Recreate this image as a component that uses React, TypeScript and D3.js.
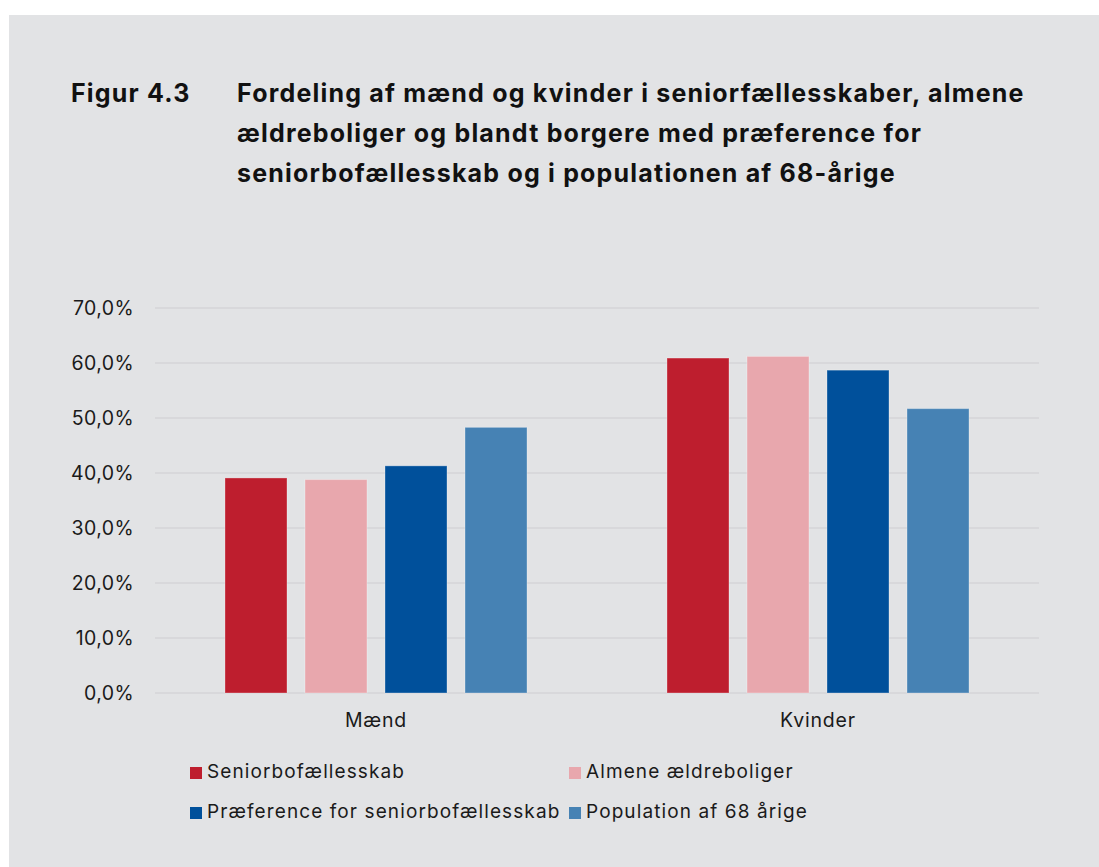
import React from "react";
import * as d3 from "d3";

const categories = ["Mænd", "Kvinder"];
const seriesNames = [
  "Seniorbofællesskab",
  "Almene ældreboliger",
  "Præference for seniorbofællesskab",
  "Population af 68 årige",
];
const seriesColors = ["#be1e2e", "#e8a7ad", "#00509b", "#4682b4"];
const seniorbo = [39.1, 60.9];
const almene = [38.8, 61.2];
const praeference = [41.3, 58.7];
const population = [48.3, 51.7];
const seriesValues = [seniorbo, almene, praeference, population];
const yTicks = [0, 10, 20, 30, 40, 50, 60, 70];
const titleLabel = "Figur 4.3";
const titleLines = [
  "Fordeling af mænd og kvinder i seniorfællesskaber, almene",
  "ældreboliger og blandt borgere med præference for",
  "seniorbofællesskab og i populationen af 68-årige",
];

const W = 1099;
const H = 867;
const left = 155;
const right = 1039;
const top = 308;
const bottom = 693;
const font = "Inter, 'Noto Sans', sans-serif";

export default function App() {
  const y = d3.scaleLinear().domain([0, 70]).range([bottom, top]);
  const x0 = d3
    .scaleBand<string>()
    .domain(categories)
    .range([left, right])
    .paddingInner(0.3167)
    .paddingOuter(0.3167 / 2);
  const x1 = d3
    .scaleBand<string>()
    .domain(seriesNames)
    .range([0, x0.bandwidth()])
    .paddingInner(0.225)
    .paddingOuter(0);
  const fmt = (v: number) => d3.format(".1f")(v).replace(".", ",") + "%";

  const legendPos = [
    { x: 190, y: 767 },
    { x: 569, y: 767 },
    { x: 190, y: 807 },
    { x: 569, y: 807 },
  ];

  return (
    <svg
      width={W}
      height={H}
      style={{ position: "absolute", left: 0, top: 0 }}
      fontFamily={font}
    >
      <rect x={0} y={0} width={W} height={H} fill="#ffffff" />
      <rect x={9} y={15} width={W - 9} height={H - 15} fill="#e2e3e5" />
      <text x={71} y={102} fontSize={25} fontWeight={700} letterSpacing={1.2} fill="#111">
        {titleLabel}
      </text>
      {titleLines.map((t, i) => (
        <text
          key={i}
          x={237}
          y={102 + i * 40}
          fontSize={25}
          fontWeight={700}
          letterSpacing={1.2}
          fill="#111"
        >
          {t}
        </text>
      ))}
      {yTicks.map((t) => (
        <g key={t}>
          <line x1={left} x2={right} y1={y(t)} y2={y(t)} stroke="#d4d5d7" strokeWidth={1.5} />
          <text
            x={134}
            y={y(t)}
            dy="0.35em"
            textAnchor="end"
            fontSize={19.5}
            letterSpacing={0.4}
            fill="#1a1a1a"
          >
            {fmt(t)}
          </text>
        </g>
      ))}
      {categories.map((c, ci) => (
        <g key={c} transform={`translate(${x0(c)},0)`}>
          {seriesNames.map((s, si) => {
            const v = seriesValues[si][ci];
            return (
              <rect
                key={s}
                x={x1(s)}
                y={y(v)}
                width={x1.bandwidth()}
                height={bottom - y(v)}
                fill={seriesColors[si]}
                stroke="rgba(255,255,255,0.3)"
                strokeWidth={1}
              />
            );
          })}
          <text
            x={x0.bandwidth() / 2}
            y={727}
            textAnchor="middle"
            fontSize={19.5}
            letterSpacing={0.8}
            fill="#1a1a1a"
          >
            {c}
          </text>
        </g>
      ))}
      {seriesNames.map((s, i) => (
        <g key={s} transform={`translate(${legendPos[i].x},${legendPos[i].y})`}>
          <rect x={0} y={0} width={12} height={12} fill={seriesColors[i]} />
          <text x={17} y={11} fontSize={19} letterSpacing={1.1} fill="#1a1a1a">
            {s}
          </text>
        </g>
      ))}
    </svg>
  );
}
